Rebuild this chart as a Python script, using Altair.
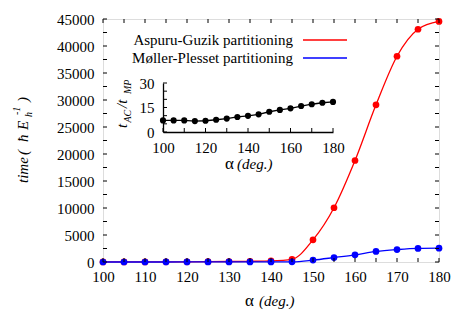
import altair as alt
import pandas as pd

# ---------------- data ----------------
alpha = [100, 105, 110, 115, 120, 125, 130, 135, 140, 145, 150, 155, 160, 165, 170, 175, 180]
ag_time = [10, 15, 20, 30, 40, 60, 90, 130, 200, 500, 4100, 10050, 18800, 29100, 38100, 43100, 44550]
mp_time = [1, 2, 3, 4, 5, 7, 10, 14, 20, 40, 350, 820, 1320, 1950, 2300, 2520, 2560]
ratio = [7.1, 7.1, 7.1, 6.7, 6.9, 7.5, 8.2, 9.2, 9.9, 10.8, 12.4, 13.5, 14.5, 15.9, 17.0, 17.9, 18.4]

series_names = ["Aspuru-Guzik partitioning", "Møller-Plesset partitioning"]
series_colors = ["#ff0000", "#0000ff"]

x_labels = [100, 110, 120, 130, 140, 150, 160, 170, 180]
y_labels = [0, 5000, 10000, 15000, 20000, 25000, 30000, 35000, 40000, 45000]
x_minor = list(range(100, 181, 5))
y_minor = list(range(0, 45001, 2500))
inset_x_labels = [100, 120, 140, 160, 180]
inset_y_labels = [0, 15, 30]
inset_x_minor = list(range(100, 181, 10))
inset_y_minor = list(range(0, 31, 5))

W, H = 336, 243
FONT = "Liberation Serif"
FS = 15

df = pd.DataFrame({"alpha": alpha, "AG": ag_time, "MP": mp_time, "ratio": ratio})
one = pd.DataFrame({"k": [0]})

# ---------------- main panel ----------------
xs = alt.Scale(domain=[100, 180], nice=False, zero=False)
ys = alt.Scale(domain=[0, 45000], nice=False)
xax = alt.Axis(values=x_labels, title="", grid=False, ticks=False, tickSize=0, domain=False, format="d",
               labelFont=FONT, labelFontSize=FS, labelColor="black", labelPadding=7, labelFlush=False)
yax = alt.Axis(values=y_labels, title="", grid=False, ticks=False, tickSize=0, domain=False, format="d",
               labelFont=FONT, labelFontSize=FS, labelColor="black", labelPadding=9)

X = alt.X("alpha:Q", scale=xs, axis=xax, title="")
base = alt.Chart(df)

red_line = base.mark_line(color=series_colors[0], strokeWidth=1.3, interpolate="monotone").encode(
    x=X, y=alt.Y("AG:Q", scale=ys, axis=yax, title=""))
red_pts = base.mark_circle(color=series_colors[0], size=45, opacity=1).encode(
    x=X, y=alt.Y("AG:Q", scale=ys, axis=yax, title=""))
blue_line = base.mark_line(color=series_colors[1], strokeWidth=1.3, interpolate="monotone").encode(
    x=X, y=alt.Y("MP:Q", scale=ys, axis=yax, title=""))
blue_pts = base.mark_circle(color=series_colors[1], size=45, opacity=1).encode(
    x=X, y=alt.Y("MP:Q", scale=ys, axis=yax, title=""))

xt = alt.Chart(pd.DataFrame({"t": x_minor}))
yt = alt.Chart(pd.DataFrame({"v": y_minor}))
TX = alt.X("t:Q", scale=xs, axis=xax, title="")
TY = alt.Y("v:Q", scale=ys, axis=yax, title="")
tick_b = xt.mark_rule(color="black", strokeWidth=1).encode(x=TX, y=alt.value(H), y2=alt.value(H - 4))
tick_t = xt.mark_rule(color="black", strokeWidth=1).encode(x=TX, y=alt.value(0), y2=alt.value(4))
tick_l = yt.mark_rule(color="black", strokeWidth=1).encode(y=TY, x=alt.value(0), x2=alt.value(4))
tick_r = yt.mark_rule(color="black", strokeWidth=1).encode(y=TY, x=alt.value(W), x2=alt.value(W - 4))

# legend
legend_layers = []
for i, (name, col) in enumerate(zip(series_names, series_colors)):
    yy = 21 + 18 * i
    legend_layers.append(alt.Chart(one).mark_text(
        text=name, font=FONT, fontSize=FS, align="right", baseline="middle", color="black"
    ).encode(x=alt.value(190), y=alt.value(yy)))
    legend_layers.append(alt.Chart(one).mark_rule(color=col, strokeWidth=1.5).encode(
        x=alt.value(200), x2=alt.value(244), y=alt.value(yy)))

def txt(t, x, y, size=FS, style="italic", angle=0, align="left", baseline="alphabetic"):
    kw = dict(text=t, font=FONT, fontSize=size, align=align, baseline=baseline, color="black")
    if style:
        kw["fontStyle"] = style
    if angle:
        kw["angle"] = angle
    return alt.Chart(one).mark_text(**kw).encode(x=alt.value(x), y=alt.value(y))

titles = [
    txt("α", 142, 287, size=17, style=""),
    txt("(deg.)", 156, 287),
    txt("time", -75, 164, angle=270),
    txt("(", -75, 136, angle=270),
    txt("ħ", -75, 123, angle=270),
    txt("E", -75, 111, angle=270),
    txt("h", -71, 98, size=10, angle=270),
    txt("-1", -83.5, 96, size=10, angle=270),
    txt(")", -75, 83, angle=270),
]

main = alt.layer(red_line, red_pts, blue_line, blue_pts, tick_b, tick_t, tick_l, tick_r,
                 *legend_layers, *titles)

# ---------------- inset ----------------
ixs = alt.Scale(domain=[100, 180], range=[60, 230], nice=False, zero=False)
iys = alt.Scale(domain=[0, 30], range=[113, 64], nice=False)
ixax = alt.Axis(values=inset_x_labels, orient="bottom", offset=-130, title="", grid=False, format="d",
                ticks=False, tickSize=0, domain=True, domainColor="black", domainWidth=1.3,
                labelFont=FONT, labelFontSize=FS, labelColor="black", labelPadding=8, labelFlush=False)
iyax = alt.Axis(values=inset_y_labels, orient="left", offset=-60, title="", grid=False, format="d",
                ticks=False, tickSize=0, domain=True, domainColor="black", domainWidth=1.3,
                labelFont=FONT, labelFontSize=FS, labelColor="black", labelPadding=9)
IX = alt.X("alpha:Q", scale=ixs, axis=ixax, title="")
IY = alt.Y("ratio:Q", scale=iys, axis=iyax, title="")
ins_line = base.mark_line(color="black", strokeWidth=1.3).encode(x=IX, y=IY)
ins_pts = base.mark_circle(color="black", size=38, opacity=1).encode(x=IX, y=IY)
ixt = alt.Chart(pd.DataFrame({"t": inset_x_minor})).mark_rule(color="black").encode(
    x=alt.X("t:Q", scale=ixs, axis=ixax, title=""), y=alt.value(113), y2=alt.value(109))
iyt = alt.Chart(pd.DataFrame({"v": inset_y_minor})).mark_rule(color="black").encode(
    y=alt.Y("v:Q", scale=iys, axis=iyax, title=""), x=alt.value(60), x2=alt.value(64))

inset_titles = [
    txt("α", 122, 150, size=17, style=""),
    txt("(deg.)", 134, 150),
    txt("t", 23.5, 109, angle=270),
    txt("AC", 28, 103.5, size=10, angle=270),
    txt("/t", 23.5, 89, angle=270),
    txt("MP", 28, 75, size=10, angle=270),
]

inset = alt.layer(ins_line, ins_pts, ixt, iyt, *inset_titles)

chart = alt.layer(main, inset).resolve_scale(x="independent", y="independent").properties(
    width=W, height=H,
    autosize=alt.AutoSizeParams(type="none"),
    padding={"left": 95, "top": 11, "right": 16, "bottom": 50},
).configure_view(stroke="black", strokeWidth=1.3).configure(background="white")

chart.save("out.html", embed_options={"renderer": "svg", "actions": False})
